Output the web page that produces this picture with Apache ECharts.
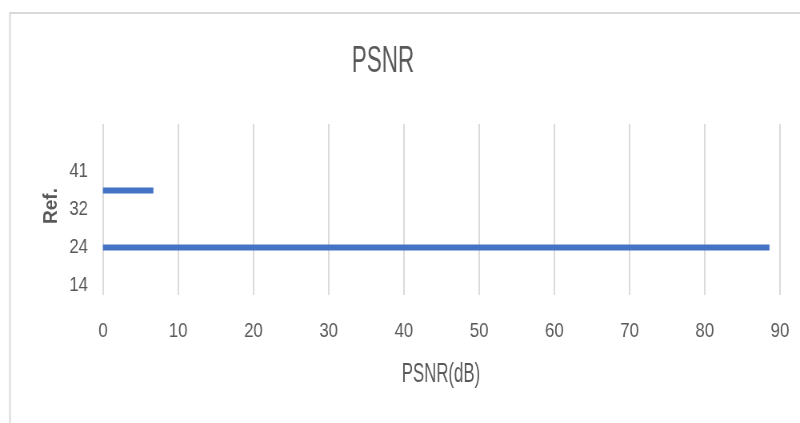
<!DOCTYPE html>
<html>
<head>
<meta charset="utf-8">
<script src="https://cdn.jsdelivr.net/npm/echarts@6/dist/echarts.min.js"></script>
<style>
  html, body { margin: 0; padding: 0; background: #fff; overflow: hidden; }
  /* The chart is laid out 1000px wide and squeezed to 800px for narrow lettering */
  #chart { width: 1000px; height: 423px; transform: scaleX(0.8); transform-origin: 0 0; }
</style>
</head>
<body>
<div id="chart"></div>
<script>
// Reference numbers on the category axis (only every other one carries a label)
const refCategories = ['14', '', '24', '', '32', '', '41', '', ''];
// PSNR values in dB for each reference slot
const psnrValues = [null, null, 88.6, null, null, 6.7, null, null, null];
// Value axis range and step
const psnrMin = 0;
const psnrMax = 90;
const psnrStep = 10;
const chartTitle = 'PSNR';
const xAxisTitle = 'PSNR(dB)';
const yAxisTitle = 'Ref.';

const SX = 0.8; // horizontal squeeze applied by CSS
const FONT = '"Liberation Sans", Arial, sans-serif';
const TEXT = '#595959';

const chart = echarts.init(document.getElementById('chart'), null, { renderer: 'canvas' });

chart.setOption({
  backgroundColor: '#ffffff',
  animation: false,
  graphic: [
    {
      // chart frame
      type: 'rect',
      shape: { x: 10 / SX, y: 13, width: 1100, height: 430 },
      style: { fill: 'none', stroke: '#d9d9d9', lineWidth: 2 },
      silent: true
    },
    {
      // tall, narrow title lettering
      type: 'text',
      x: 383 / SX,
      y: 62,
      scaleY: 1.35,
      style: {
        text: chartTitle,
        font: '28px ' + FONT,
        fill: TEXT,
        textAlign: 'center',
        textVerticalAlign: 'middle'
      },
      silent: true
    },
    {
      // value axis title, same tall lettering
      type: 'text',
      x: 441 / SX,
      y: 374,
      scaleY: 1.3,
      style: {
        text: xAxisTitle,
        font: '21px ' + FONT,
        fill: TEXT,
        textAlign: 'center',
        textVerticalAlign: 'middle'
      },
      silent: true
    },
    {
      // category axis title, turned to read upward; scaleY undoes the page squeeze
      type: 'text',
      x: 51 / SX,
      y: 206,
      rotation: Math.PI / 2,
      scaleY: 1.3,
      style: {
        text: yAxisTitle,
        font: 'bold 19px ' + FONT,
        fill: TEXT,
        textAlign: 'center',
        textVerticalAlign: 'middle'
      },
      silent: true
    }
  ],
  grid: { left: 103 / SX, right: 20 / SX, top: 124, bottom: 128, containLabel: false },
  xAxis: {
    type: 'value',
    min: psnrMin,
    max: psnrMax,
    interval: psnrStep,
    axisLine: { show: false },
    axisTick: { show: false },
    axisLabel: { fontFamily: FONT, fontSize: 21, color: TEXT, margin: 26 },
    splitLine: { show: true, lineStyle: { color: '#d9d9d9', width: 1.5 / SX } }
  },
  yAxis: {
    type: 'category',
    data: refCategories,
    axisLine: { show: false },
    axisTick: { show: false },
    axisLabel: { fontFamily: FONT, fontSize: 21, color: TEXT, margin: 15 / SX, interval: 0 },
    splitLine: { show: false }
  },
  series: [{
    type: 'bar',
    data: psnrValues,
    barWidth: 6,
    itemStyle: { color: '#4472C4' }
  }]
});
</script>
</body>
</html>
